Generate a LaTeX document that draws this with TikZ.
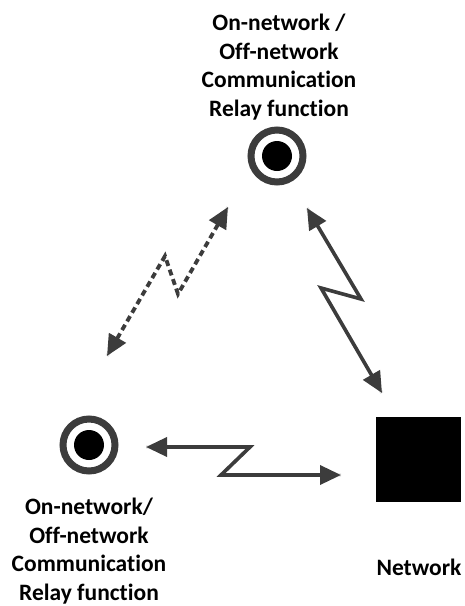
\documentclass[tikz,border=0pt]{standalone}
\usepackage{fontspec}
\setmainfont[Ligatures=NoCommon]{Carlito}
\usetikzlibrary{arrows.meta}
\definecolor{ink}{RGB}{60,60,60}
\definecolor{shade}{RGB}{228,228,228}
\tikzset{
  ring/.style={circle,draw=ink,line width=7pt,fill=white,minimum size=52pt,inner sep=0pt},
  core/.style={circle,fill=black,minimum size=30pt,inner sep=0pt},
  relaybox/.style={fill=black,minimum size=85pt,inner sep=0pt},
  caption/.style={font=\fontsize{23.5}{28.7}\selectfont\bfseries,align=center,inner sep=0pt,text=black},
  tips/.style={{Triangle[length=21pt,width=19pt]}-{Triangle[length=21pt,width=19pt]}},
  link/.style={draw=ink,line width=3.6pt,line join=miter,tips},
  dotlink/.style={draw=ink,line width=3.8pt,tips,dash pattern=on 6pt off 4pt},
  linkshade/.style={draw=shade,line width=3.4pt,shift={(1.2pt,-1.2pt)}},
}
\begin{document}
\begin{tikzpicture}[x=1pt,y=-1pt]
\useasboundingbox (0,0) rectangle (464,606);
\node[caption] (toplabel) at (279,67) {On-network /\\Off-network\\Communication\\Relay function};
\node[caption] (leftlabel) at (89,551) {On-network/\\Off-network\\Communication\\Relay function};
\node[caption] (netlabel) at (419,567) {Network};
\node[ring] (topring) at (277,156) {};
\node[core] (topcore) at (277,156) {};
\node[ring] (leftring) at (89,445) {};
\node[core] (leftcore) at (89,445) {};
\node[relaybox] (net) at (418.5,459.5) {};
\coordinate (dA) at (107,356);
\coordinate (dB) at (165,256);
\coordinate (dC) at (178,294);
\coordinate (dD) at (228,207);
\coordinate (rA) at (307,208);
\coordinate (rB) at (361,299);
\coordinate (rC) at (321,288);
\coordinate (rD) at (382,393);
\coordinate (bA) at (146,447);
\coordinate (bB) at (250,447);
\coordinate (bC) at (221,475);
\coordinate (bD) at (341,475);
\draw[linkshade,dash pattern=on 6pt off 4pt] (dA) -- (dB) -- (dC) -- (dD);
\draw[linkshade] (rA) -- (rB) -- (rC) -- (rD);
\draw[linkshade] (bA) -- (bB) -- (bC) -- (bD);
\draw[dotlink] (dA) -- (dB) -- (dC) -- (dD);
\draw[link] (rA) -- (rB) -- (rC) -- (rD);
\draw[link] (bA) -- (bB) -- (bC) -- (bD);
\end{tikzpicture}
\end{document}
